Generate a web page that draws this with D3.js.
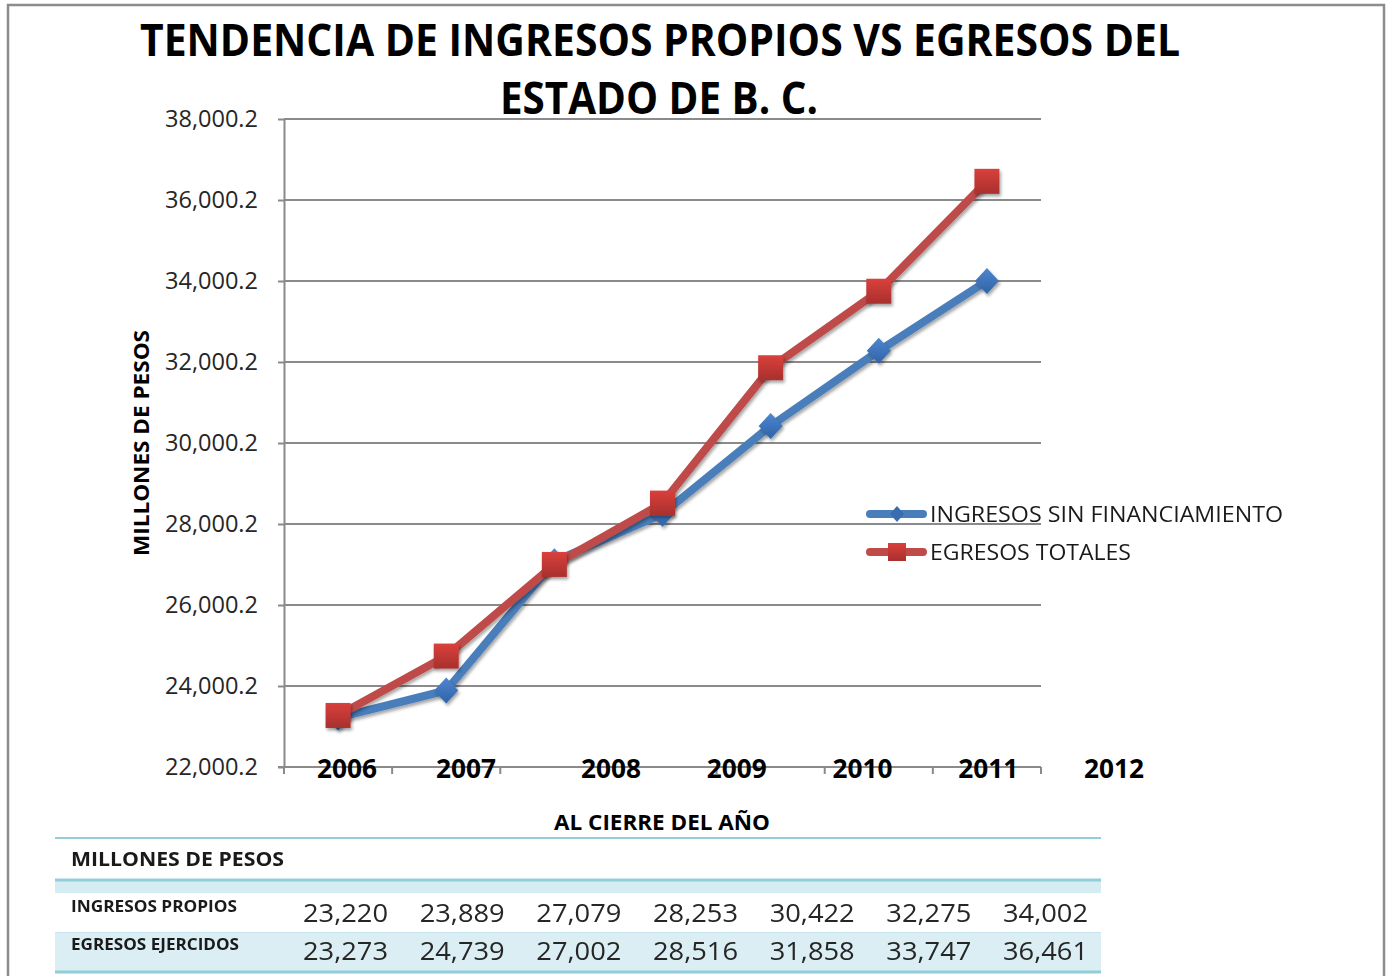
<!DOCTYPE html>
<html><head><meta charset="utf-8">
<script src="https://cdn.jsdelivr.net/npm/d3@7"></script>
<style>html,body{margin:0;padding:0;background:#fff}svg{display:block}</style>
</head><body>
<script>
const years = ["2006","2007","2008","2009","2010","2011","2012"];
const ingresos = [23220, 23889, 27079, 28253, 30422, 32275, 34002];
const egresos = [23273, 24739, 27002, 28516, 31858, 33747, 36461];
const yTicks = [22000.2, 24000.2, 26000.2, 28000.2, 30000.2, 32000.2, 34000.2, 36000.2, 38000.2];
const seriesNames = ["INGRESOS SIN FINANCIAMIENTO", "EGRESOS TOTALES"];
const tableRowNames = ["INGRESOS PROPIOS", "EGRESOS EJERCIDOS"];
const titleLines = ["TENDENCIA DE INGRESOS PROPIOS VS EGRESOS DEL", "ESTADO DE B. C."];

const W = 1390, H = 976;
const FONT = "'Open Sans', 'Liberation Sans', sans-serif";
const svg = d3.select("body").append("svg").attr("width", W).attr("height", H);
const defs = svg.append("defs");
const sh = defs.append("filter").attr("id","shadow").attr("x","-30%").attr("y","-30%").attr("width","160%").attr("height","160%");
sh.append("feDropShadow").attr("dx",1.5).attr("dy",2.5).attr("stdDeviation",1.5).attr("flood-color","#000").attr("flood-opacity",0.35);
const gr = defs.append("linearGradient").attr("id","redg").attr("x1",0).attr("y1",0).attr("x2",0).attr("y2",1);
gr.append("stop").attr("offset","0%").attr("stop-color","#D9403C");
gr.append("stop").attr("offset","100%").attr("stop-color","#A8302D");
const gb = defs.append("linearGradient").attr("id","blueg").attr("x1",0).attr("y1",0).attr("x2",0).attr("y2",1);
gb.append("stop").attr("offset","0%").attr("stop-color","#4F86CF");
gb.append("stop").attr("offset","100%").attr("stop-color","#2E63A8");

svg.append("rect").attr("x",8).attr("y",5).attr("width",1376).attr("height",1010)
  .attr("fill","#fff").attr("stroke","#8c8c8c").attr("stroke-width",2.5);

// Title
const titleG = svg.append("g");
[[titleLines[0], 660, 56, 1040],[titleLines[1], 659, 114, 318]].forEach(([t,tx,ty,tw]) => {
  titleG.append("text").attr("x",tx).attr("y",ty).attr("text-anchor","middle")
    .attr("font-family",FONT).attr("font-weight","bold").attr("font-size",44)
    .attr("textLength",tw).attr("lengthAdjust","spacingAndGlyphs").attr("fill","#000").text(t);
});

// Scales
const pLeft = 284, pRight = 1041, pTop = 119, pBottom = 767;
const x = d3.scaleBand().domain(years).range([pLeft, pRight]);
const y = d3.scaleLinear().domain([yTicks[0], yTicks[yTicks.length-1]]).range([pBottom, pTop]);

// gridlines
svg.append("g").selectAll("line").data(yTicks.slice(1)).join("line")
  .attr("x1",pLeft).attr("x2",pRight).attr("y1",d=>y(d)).attr("y2",d=>y(d))
  .attr("stroke","#8a8a8a").attr("stroke-width",2);

// Y axis
const yAxis = svg.append("g").attr("transform",`translate(${pLeft},0)`)
  .call(d3.axisLeft(y).tickValues(yTicks).tickSize(6).tickSizeOuter(0).tickPadding(20)
    .tickFormat(d => d3.format(",.1f")(d)));
yAxis.select(".domain").attr("stroke","#8a8a8a").attr("stroke-width",2);
yAxis.selectAll(".tick line").attr("stroke","#8a8a8a").attr("stroke-width",2);
yAxis.selectAll(".tick text").attr("font-family",FONT).attr("font-size",23).attr("fill","#262626")
  .attr("textLength",93).attr("lengthAdjust","spacingAndGlyphs");

// X axis (ticks between categories)
const xAxisG = svg.append("g").attr("transform",`translate(0,${pBottom})`);
xAxisG.append("line").attr("x1",pLeft-6).attr("x2",pRight).attr("stroke","#8a8a8a").attr("stroke-width",2);
const bounds = years.map(d => x(d)).concat([pRight]);
xAxisG.selectAll("line.t").data(bounds).join("line").attr("class","t")
  .attr("x1",d=>d).attr("x2",d=>d).attr("y1",0).attr("y2",7).attr("stroke","#8a8a8a").attr("stroke-width",2);

// Year labels (text boxes in the original, offset from category centers)
const labelX = d3.scaleLinear().domain([2006,2007,2008,2012]).range([347,466,611,1114]);
svg.append("g").selectAll("text").data(years).join("text")
  .attr("x",d=>labelX(+d)).attr("y",pBottom+11).attr("text-anchor","middle")
  .attr("font-family",FONT).attr("font-weight","bold").attr("font-size",26)
  .attr("textLength",60).attr("lengthAdjust","spacingAndGlyphs").attr("fill","#000").text(d=>d);

// Axis titles
svg.append("text").attr("transform","translate(149,443) rotate(-90)").attr("text-anchor","middle")
  .attr("font-family",FONT).attr("font-weight","bold").attr("font-size",22)
  .attr("textLength",226).attr("lengthAdjust","spacingAndGlyphs").text("MILLONES DE PESOS");
svg.append("text").attr("x",662).attr("y",830).attr("text-anchor","middle")
  .attr("font-family",FONT).attr("font-weight","bold").attr("font-size",22)
  .attr("textLength",216).attr("lengthAdjust","spacingAndGlyphs").text("AL CIERRE DEL AÑO");

// Lines
const cx = d => x(d) + x.bandwidth()/2;
const line = d3.line().x((d,i)=>cx(years[i])).y(d=>y(d));
const series = [
  {vals: ingresos, color: "#4A7EBB", fill: "url(#blueg)", shape: "diamond"},
  {vals: egresos, color: "#BE4B48", fill: "url(#redg)", shape: "square"}
];
series.forEach(s => {
  svg.append("path").datum(s.vals).attr("d",line).attr("fill","none")
    .attr("stroke",s.color).attr("stroke-width",8).attr("stroke-linejoin","round")
    .attr("filter","url(#shadow)");
});
series.forEach(s => {
  const g = svg.append("g").attr("filter","url(#shadow)");
  s.vals.forEach((v,i) => {
    if (s.shape === "diamond") {
      g.append("path").attr("transform",`translate(${cx(years[i])},${y(v)})`)
        .attr("d","M0,-13L12,0L0,13L-12,0Z").attr("fill",s.fill);
    } else {
      g.append("rect").attr("x",cx(years[i])-12.5).attr("y",y(v)-12.5)
        .attr("width",25).attr("height",25).attr("fill",s.fill);
    }
  });
});

// Legend
const legY = [514, 552];
series.forEach((s,i) => {
  const g = svg.append("g");
  g.append("line").attr("x1",870).attr("x2",923).attr("y1",legY[i]).attr("y2",legY[i])
    .attr("stroke",s.color).attr("stroke-width",8).attr("stroke-linecap","round");
  if (s.shape === "diamond") {
    g.append("path").attr("transform",`translate(897,${legY[i]})`).attr("d","M0,-8L7,0L0,8L-7,0Z").attr("fill","#3A6DB0");
  } else {
    g.append("rect").attr("x",888).attr("y",legY[i]-9).attr("width",18).attr("height",18).attr("fill","url(#redg)");
  }
  g.append("text").attr("x",930).attr("y",legY[i]+8).attr("font-family",FONT).attr("font-size",22)
    .attr("textLength", i===0 ? 353 : 201).attr("lengthAdjust","spacingAndGlyphs").attr("fill","#1a1a1a").text(seriesNames[i]);
});

// Table
const tb = svg.append("g");
const tL = 55, tR = 1101;
tb.append("rect").attr("x",tL).attr("y",880).attr("width",tR-tL).attr("height",13).attr("fill","#D6ECF3");
tb.append("rect").attr("x",tL).attr("y",933).attr("width",tR-tL).attr("height",38).attr("fill","#DAEEF3");
tb.append("line").attr("x1",tL).attr("x2",tR).attr("y1",838).attr("y2",838).attr("stroke","#92CDDC").attr("stroke-width",2);
tb.append("line").attr("x1",tL).attr("x2",tR).attr("y1",880).attr("y2",880).attr("stroke","#92CDDC").attr("stroke-width",3);
tb.append("line").attr("x1",tL).attr("x2",tR).attr("y1",932.5).attr("y2",932.5).attr("stroke","#C5E4EE").attr("stroke-width",1);
tb.append("line").attr("x1",tL).attr("x2",tR).attr("y1",972).attr("y2",972).attr("stroke","#92CDDC").attr("stroke-width",3);
tb.append("text").attr("x",71).attr("y",866).attr("font-family",FONT).attr("font-weight","bold").attr("font-size",19)
  .attr("textLength",213).attr("lengthAdjust","spacingAndGlyphs").attr("fill","#1a1a1a").text("MILLONES DE PESOS");
const rowY = [912, 950];
const colX = d3.scaleLinear().domain([0, years.length-1]).range([388, 1088]);
[ingresos, egresos].forEach((vals, r) => {
  tb.append("text").attr("x",71).attr("y",rowY[r]).attr("font-family",FONT).attr("font-weight","bold").attr("font-size",16)
    .attr("textLength", r===0 ? 166 : 168).attr("lengthAdjust","spacingAndGlyphs").attr("fill","#1a1a1a").text(tableRowNames[r]);
  tb.selectAll(null).data(vals).join("text")
    .attr("x",(d,i)=>colX(i)).attr("y",rowY[r]+10).attr("text-anchor","end")
    .attr("font-family",FONT).attr("font-size",25).attr("fill","#262626")
    .attr("textLength",85).attr("lengthAdjust","spacingAndGlyphs")
    .text(d=>d3.format(",")(d));
});
</script>
</body></html>
